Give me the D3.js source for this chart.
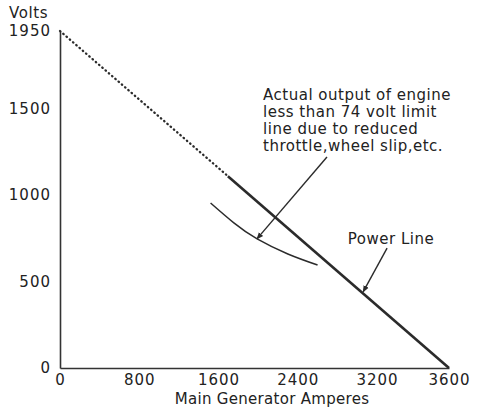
<!DOCTYPE html>
<html>
<head>
<meta charset="utf-8">
<script src="https://cdn.jsdelivr.net/npm/d3@7"></script>
<style>
  body { margin: 0; background: #fff; }
  svg { display: block; font-family: "DejaVu Sans", sans-serif; }
  .axis { font-family: "DejaVu Sans", sans-serif; }
  .axis text { font-size: 15px; fill: #222; letter-spacing: 1px; }
  .axis path { stroke: #333; stroke-width: 1.6px; }
</style>
</head>
<body>
<svg id="svg" width="480" height="408"></svg>
<script>
// values
var xTicks = [0, 800, 1600, 2400, 3200, 3600];
var yTicks = [0, 500, 1000, 1500, 1950];

// power line: dotted part then solid part (amps, volts)
var powerDotted = [[0, 1950], [1695, 1110]];
var powerSolid = [[1695, 1110], [3600, 0]];

// actual output curve
var actualAmps = [1520, 1755, 1990, 2300, 2600];
var actualVolts = [955, 840, 747, 660, 596];

var noteLines = ["Actual output of engine", "less than 74 volt limit",
                 "line due to reduced", "throttle,wheel slip,etc."];
var noteAnchor = [2050, 1550];
var noteArrow = [[2695, 1221], [1988, 747]];

var powerLabel = "Power Line";
var powerAnchor = [2905, 720];
var powerArrow = [[3256, 694], [3060, 440]];

var svg = d3.select("#svg");

// the x labels are evenly spaced in the original, 3200->3600 takes a full step
var x = d3.scaleLinear()
    .domain([0, 3200, 3600])
    .range([60, 377, 449]);

var y = d3.scaleLinear()
    .domain([0, 1950])
    .range([368, 31]);

var ink = "#2b2b2b";

svg.append("defs").append("marker")
    .attr("id", "head")
    .attr("viewBox", "0 0 10 10")
    .attr("refX", 9)
    .attr("refY", 5)
    .attr("markerWidth", 7)
    .attr("markerHeight", 7)
    .attr("markerUnits", "userSpaceOnUse")
    .attr("orient", "auto")
  .append("path")
    .attr("d", "M0,1 L10,5 L0,9 Z")
    .attr("fill", ink);

// axes
svg.append("g")
    .attr("class", "axis")
    .attr("transform", "translate(" + x(0) + ",0)")
    .call(d3.axisLeft(y).tickValues(yTicks).tickSize(0).tickSizeOuter(0).tickPadding(9).tickFormat(d3.format("d")));

svg.append("g")
    .attr("class", "axis")
    .attr("transform", "translate(0," + y(0) + ")")
    .call(d3.axisBottom(x).tickValues(xTicks).tickSize(0).tickSizeOuter(0).tickPadding(6).tickFormat(d3.format("d")));

svg.append("text")
    .attr("x", 9)
    .attr("y", 18)
    .attr("font-size", 15)
    .attr("letter-spacing", 0.6)
    .attr("fill", "#222")
    .text("Volts");

svg.append("text")
    .attr("x", 272)
    .attr("y", 404)
    .attr("text-anchor", "middle")
    .attr("font-size", 15)
    .attr("letter-spacing", 0.3)
    .attr("fill", "#222")
    .text("Main Generator Amperes");

var line = d3.line()
    .x(function(d) { return x(d[0]); })
    .y(function(d) { return y(d[1]); });

svg.append("path")
    .attr("d", line(powerDotted))
    .attr("fill", "none")
    .attr("stroke", ink)
    .attr("stroke-width", 2.3)
    .attr("stroke-linecap", "round")
    .attr("stroke-dasharray", "0.5,3.8");

svg.append("path")
    .attr("d", line(powerSolid))
    .attr("fill", "none")
    .attr("stroke", ink)
    .attr("stroke-width", 2.6);

var curve = d3.line()
    .x(function(d, i) { return x(actualAmps[i]); })
    .y(function(d, i) { return y(actualVolts[i]); })
    .curve(d3.curveNatural);

svg.append("path")
    .attr("d", curve(actualAmps))
    .attr("fill", "none")
    .attr("stroke", ink)
    .attr("stroke-width", 1.5);

// annotations
svg.selectAll(".arrow")
    .data([noteArrow, powerArrow])
    .enter().append("path")
    .attr("class", "arrow")
    .attr("d", line)
    .attr("fill", "none")
    .attr("stroke", ink)
    .attr("stroke-width", 1.4)
    .attr("marker-end", "url(#head)");

svg.append("text")
    .attr("font-size", 15)
    .attr("letter-spacing", 0.5)
    .attr("fill", "#222")
    .selectAll("tspan")
    .data(noteLines)
    .enter().append("tspan")
    .attr("x", x(noteAnchor[0]))
    .attr("y", function(d, i) { return y(noteAnchor[1]) + i * 17; })
    .text(function(d) { return d; });

svg.append("text")
    .attr("x", x(powerAnchor[0]))
    .attr("y", y(powerAnchor[1]))
    .attr("font-size", 15)
    .attr("letter-spacing", 0.5)
    .attr("fill", "#222")
    .text(powerLabel);
</script>
</body>
</html>
